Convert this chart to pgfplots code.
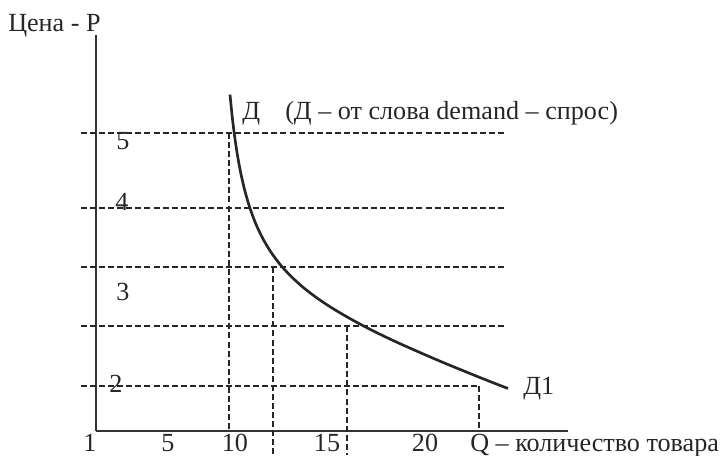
\documentclass[border=0pt]{standalone}
\usepackage{fontspec}
\setmainfont{Liberation Serif}
\usepackage{pgfplots}
\pgfplotsset{compat=1.18}
\tikzset{
  grd/.style={black!85, line width=1pt, dash pattern=on 4.5pt off 2.3pt},
  lbl/.style={inner sep=0pt, text=black!85},
}

\begin{document}
\fontsize{19.6}{23}\selectfont
\begin{tikzpicture}
\begin{axis}[
    x=0.75pt, y=0.75pt,
    xmin=96, xmax=568,
    ymin=25, ymax=421,
    axis x line=bottom, axis y line=left,
    axis line style={-, line width=1.3pt, black!80},
    xtick=\empty, ytick=\empty,
    clip=false,
  ]
  % horizontal guides
  \addplot[grd] coordinates {(81,323) (507,323)};
  \addplot[grd] coordinates {(81,248) (507,248)};
  \addplot[grd] coordinates {(81,189) (507,189)};
  \addplot[grd] coordinates {(81,130) (507,130)};
  \addplot[grd] coordinates {(81,70) (479,70)};
  % vertical guides
  \addplot[grd] coordinates {(229,323) (229,25)};
  \addplot[grd] coordinates {(273,189) (273,1)};
  \addplot[grd] coordinates {(347,130) (347,1)};
  \addplot[grd] coordinates {(479,70) (479,25)};
  % demand curve
  \addplot[smooth, line width=2pt, black!85] coordinates {
    (230,361.4) (232,341.3) (234,324.4) (236,310.0) (238,297.6)
    (241,281.8) (245,264.7) (250,247.7) (256,231.7) (263,217.1)
    (271,203.8) (280,191.7) (290,180.7) (302,169.6) (316,158.7)
    (332,148.0) (350,137.4) (370,126.7) (392,116.0) (416,105.2)
    (442,94.0) (470,82.5) (490,74.5) (508,67.5)
  };

  \node[lbl, anchor=base west] at (axis cs:8,424) {Цена - Р};
  \node[lbl, anchor=base west] at (axis cs:242,336) {Д};
  \node[lbl, anchor=base west] at (axis cs:285,336) {(Д – от слова demand – спрос)};
  \node[lbl, anchor=base] at (axis cs:123,306) {5};
  \node[lbl, anchor=base] at (axis cs:122,245) {4};
  \node[lbl, anchor=base] at (axis cs:123,155) {3};
  \node[lbl, anchor=base] at (axis cs:116,63) {2};
  \node[lbl, anchor=base west] at (axis cs:523,61) {Д1};
  \node[lbl, anchor=base] at (axis cs:90,4) {1};
  \node[lbl, anchor=base] at (axis cs:168,4) {5};
  \node[lbl, anchor=base] at (axis cs:235,4) {10};
  \node[lbl, anchor=base] at (axis cs:327,4) {15};
  \node[lbl, anchor=base] at (axis cs:425,4) {20};
  \node[lbl, anchor=base west] at (axis cs:470,4) {Q – количество товара};

  \coordinate (bl) at (axis cs:0,0);
  \coordinate (tr) at (axis cs:722,456);
\end{axis}
\pgfresetboundingbox
\path[use as bounding box] (bl) rectangle (tr);
\end{tikzpicture}
\end{document}
